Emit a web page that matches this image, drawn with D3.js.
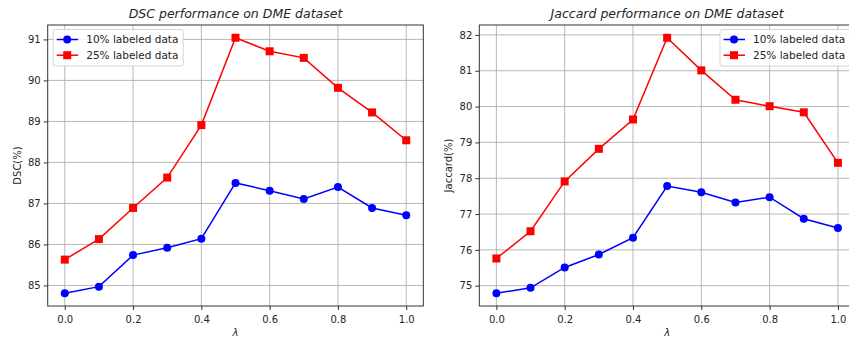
<!DOCTYPE html>
<html>
<head>
<meta charset="utf-8">
<script src="https://cdn.jsdelivr.net/npm/d3@7"></script>
<style>
  html, body { margin: 0; padding: 0; background: #fff; }
  svg { display: block; font-family: "DejaVu Sans", sans-serif; }
</style>
</head>
<body>
<div id="chart"></div>
<script>
// lambda values shared by both panels
const lambdas = [0.0, 0.1, 0.2, 0.3, 0.4, 0.5, 0.6, 0.7, 0.8, 0.9, 1.0];
const xTicks = [0.0, 0.2, 0.4, 0.6, 0.8, 1.0];

// DSC panel
const dsc10 = [84.81, 84.97, 85.74, 85.92, 86.14, 87.50, 87.31, 87.11, 87.40, 86.89, 86.71];
const dsc25 = [85.63, 86.13, 86.89, 87.63, 88.91, 91.04, 90.71, 90.55, 89.82, 89.22, 88.54];
const dscTicks = [85, 86, 87, 88, 89, 90, 91];

// Jaccard panel
const jac10 = [74.79, 74.94, 75.51, 75.87, 76.34, 77.78, 77.61, 77.32, 77.47, 76.87, 76.61];
const jac25 = [75.76, 76.52, 77.91, 78.82, 79.64, 81.92, 81.01, 80.19, 80.01, 79.84, 78.43];
const jacTicks = [75, 76, 77, 78, 79, 80, 81, 82];

const seriesNames = ["10% labeled data", "25% labeled data"];

const W = 849, H = 341;
const svg = d3.select("#chart").append("svg")
    .attr("width", W)
    .attr("height", H);

const panels = [
    {
        title: "DSC performance on DME dataset",
        ylabel: "DSC(%)",
        series: [dsc10, dsc25],
        yTicks: dscTicks,
        left: 47.7, right: 423.3,
        legend: "left"
    },
    {
        title: "Jaccard performance on DME dataset",
        ylabel: "Jaccard(%)",
        series: [jac10, jac25],
        yTicks: jacTicks,
        left: 479.3, right: 855,
        legend: "right"
    }
];

const plotTop = 25, plotBottom = 306;
const colors = ["#0000ff", "#ff0000"];
const textColor = "#262626";

panels.forEach((p) => {
    const all = p.series.flat();
    const lo = d3.min(all), hi = d3.max(all);
    const pad = (hi - lo) * 0.05;

    const x = d3.scaleLinear().domain([-0.05, 1.05]).range([p.left, p.right]);
    const y = d3.scaleLinear().domain([lo - pad, hi + pad]).range([plotBottom, plotTop]);

    const g = svg.append("g");

    // grid
    g.append("g")
        .selectAll("line")
        .data(xTicks)
        .join("line")
        .attr("x1", (d) => x(d)).attr("x2", (d) => x(d))
        .attr("y1", plotTop).attr("y2", plotBottom)
        .attr("stroke", "#b0b0b0").attr("stroke-width", 0.9);
    g.append("g")
        .selectAll("line")
        .data(p.yTicks)
        .join("line")
        .attr("x1", p.left).attr("x2", p.right)
        .attr("y1", (d) => y(d)).attr("y2", (d) => y(d))
        .attr("stroke", "#b0b0b0").attr("stroke-width", 0.9);

    // axes
    const xAxis = g.append("g")
        .attr("transform", `translate(0,${plotBottom})`)
        .call(d3.axisBottom(x).tickValues(xTicks).tickFormat(d3.format(".1f")).tickSize(4).tickSizeOuter(0));
    const yAxis = g.append("g")
        .attr("transform", `translate(${p.left},0)`)
        .call(d3.axisLeft(y).tickValues(p.yTicks).tickFormat(d3.format("d")).tickSize(4).tickSizeOuter(0));
    [xAxis, yAxis].forEach((a) => {
        a.select(".domain").remove();
        a.selectAll(".tick line").attr("stroke", "#333");
        a.selectAll(".tick text")
            .attr("fill", textColor)
            .style("font-size", "10px")
            .style("font-family", "DejaVu Sans, sans-serif");
    });
    xAxis.selectAll(".tick text").attr("dy", "0.95em");

    // frame
    g.append("rect")
        .attr("x", p.left).attr("y", plotTop)
        .attr("width", p.right - p.left).attr("height", plotBottom - plotTop)
        .attr("fill", "none").attr("stroke", "#333").attr("stroke-width", 1);

    // lines and markers
    const line = d3.line().x((d, i) => x(lambdas[i])).y((d) => y(d));
    p.series.forEach((s, k) => {
        g.append("path")
            .datum(s)
            .attr("d", line)
            .attr("fill", "none")
            .attr("stroke", colors[k])
            .attr("stroke-width", 1.5);
        if (k === 0) {
            g.append("g").selectAll("circle")
                .data(s)
                .join("circle")
                .attr("cx", (d, i) => x(lambdas[i]))
                .attr("cy", (d) => y(d))
                .attr("r", 4)
                .attr("fill", colors[k]);
        } else {
            g.append("g").selectAll("rect")
                .data(s)
                .join("rect")
                .attr("x", (d, i) => x(lambdas[i]) - 4)
                .attr("y", (d) => y(d) - 4)
                .attr("width", 8).attr("height", 8)
                .attr("fill", colors[k]);
        }
    });

    // title
    const cx = (p.left + p.right) / 2;
    g.append("text")
        .attr("x", cx)
        .attr("y", 18)
        .attr("text-anchor", "middle")
        .attr("fill", textColor)
        .style("font-size", "12.5px")
        .style("font-style", "italic")
        .text(p.title);

    // axis labels
    g.append("text")
        .attr("x", cx)
        .attr("y", 336)
        .attr("text-anchor", "middle")
        .attr("fill", textColor)
        .style("font-size", "10px")
        .style("font-style", "italic")
        .text("λ");
    g.append("text")
        .attr("transform", `translate(${p.left - 27},${(plotTop + plotBottom) / 2}) rotate(-90)`)
        .attr("text-anchor", "middle")
        .attr("fill", textColor)
        .style("font-size", "10px")
        .text(p.ylabel);

    // legend
    const lx = p.legend === "left" ? p.left + 5.5 : 720;
    const lw = 130;
    const leg = g.append("g").attr("transform", `translate(${lx},29.5)`);
    leg.append("rect")
        .attr("width", lw).attr("height", 36.5)
        .attr("rx", 2)
        .attr("fill", "#fff").attr("fill-opacity", 0.85)
        .attr("stroke", "#d0d0d0").attr("stroke-width", 0.9);
    seriesNames.forEach((name, k) => {
        const ry = 10 + k * 15.7;
        leg.append("line")
            .attr("x1", 3.5).attr("x2", 25)
            .attr("y1", ry).attr("y2", ry)
            .attr("stroke", colors[k]).attr("stroke-width", 1.5);
        if (k === 0) {
            leg.append("circle").attr("cx", 14).attr("cy", ry).attr("r", 4).attr("fill", colors[k]);
        } else {
            leg.append("rect").attr("x", 10).attr("y", ry - 4).attr("width", 8).attr("height", 8).attr("fill", colors[k]);
        }
        leg.append("text")
            .attr("x", 33).attr("y", ry)
            .attr("dy", "0.35em")
            .attr("fill", textColor)
            .style("font-size", "10.5px")
            .text(name);
    });
});
</script>
</body>
</html>
